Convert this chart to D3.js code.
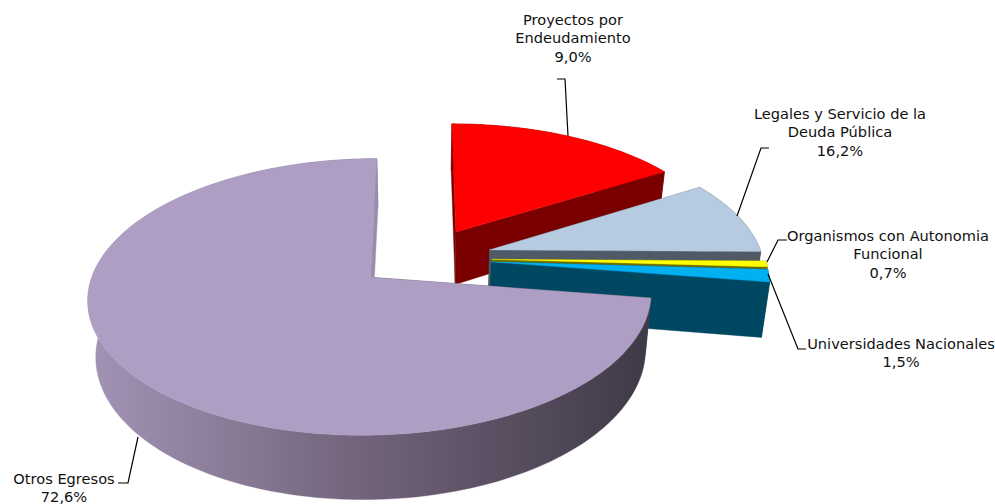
<!DOCTYPE html>
<html lang="es">
<head>
<meta charset="utf-8">
<title>Egresos</title>
<script src="https://cdn.jsdelivr.net/npm/d3@7"></script>
<style>
  html, body { margin: 0; padding: 0; background: #fff; }
  svg { display: block; }
  text { font-family: "DejaVu Sans", sans-serif; font-size: 14.6px; fill: #111; }
</style>
</head>
<body>
<div id="chart"></div>
<script>
const categories = [
  "Proyectos por|Endeudamiento",
  "Legales y Servicio de la|Deuda Pública",
  "Organismos con Autonomia|Funcional",
  "Universidades Nacionales",
  "Otros Egresos",
];
// what the labels print
const labelValues = ["9,0%", "16,2%", "0,7%", "1,5%", "72,6%"];
// size of the slices as drawn: in the picture the red one is the 16,2 slice and the blue one the 9,0
const sliceValues = [16.2, 9.0, 0.7, 1.5, 72.6];
const topColors = ["#ff0000", "#b6cbe0", "#ffff00", "#00b0f0", "#af9ec4"];
const wallColors = ["#7a0000", "#4f5a66", "#6e6e00", "#004862", "#5c5368"];
// how far each slice is pulled out of the pie, in radii
const explodeX = [0.128, 0.25, 0.255, 0.253, -0.185];
const explodeZ = [0.206, 0.063, -0.01, -0.03, -0.145];

const width = 995;
const height = 504;

// perspective pie: world x/z on the table, z grows away from the viewer
const originX = 422;
const originY = 258;
const scaleX = 273;
const scaleZ = 130;
const perspective = 0.14;
const depth = 54;
const lowerShrink = 0.024;

const svg = d3.select("#chart").append("svg").attr("width", width).attr("height", height);

const defs = svg.append("defs");
const grad = defs.append("linearGradient")
  .attr("id", "purpleWall")
  .attr("gradientUnits", "userSpaceOnUse")
  .attr("x1", 90).attr("x2", 650).attr("y1", 0).attr("y2", 0);
grad.append("stop").attr("offset", "0%").attr("stop-color", "#a293b5");
grad.append("stop").attr("offset", "50%").attr("stop-color", "#716279");
grad.append("stop").attr("offset", "100%").attr("stop-color", "#3f3a47");

const pie = d3.pie().sort(null).value((d) => d)
  .startAngle(0).endAngle(2 * Math.PI);
const slices = pie(sliceValues);

const scaleH = d3.scaleLinear().domain([0, 1]).range([0, scaleX]);
const scaleV = d3.scaleLinear().domain([0, 1]).range([0, scaleZ]);

// world point -> screen, lower = true gives the bottom face
function project(wx, wz, lower) {
  const d = 1 + perspective * wz;
  let x = originX + scaleH(wx) / d;
  let y = originY - scaleV(wz) / d;
  if (lower) {
    x = originX + (x - originX) * (1 - lowerShrink);
    y += depth / d;
  }
  return [x, y];
}

function rimPoints(s, lower) {
  const cx = explodeX[s.index];
  const cz = explodeZ[s.index];
  const steps = Math.max(4, Math.ceil((s.endAngle - s.startAngle) * 40));
  return d3.range(steps + 1).map((i) => {
    const a = s.startAngle + ((s.endAngle - s.startAngle) * i) / steps;
    return project(cx + Math.sin(a), cz + Math.cos(a), lower);
  });
}

function apex(s, lower) {
  return project(explodeX[s.index], explodeZ[s.index], lower);
}

const line = d3.line().curve(d3.curveLinear);

function poly(points, fill) {
  svg.append("path")
    .attr("d", line(points) + "Z")
    .attr("fill", fill)
    .attr("stroke", fill)
    .attr("stroke-width", 0.4)
    .attr("stroke-linejoin", "round");
}

slices.forEach((s, i) => {
  const wall = i === 4 ? "url(#purpleWall)" : wallColors[i];
  const up = rimPoints(s, false);
  const low = rimPoints(s, true);
  const a0 = apex(s, false);
  const a1 = apex(s, true);
  // cut at the start, round side, cut at the end, top face last
  poly([a0, up[0], low[0], a1], i === 4 ? "#4a4452" : wall);
  poly(up.concat(low.slice().reverse()), wall);
  poly([a0, up[up.length - 1], low[low.length - 1], a1], i === 4 ? "#9a8cab" : wall);
  poly([a0].concat(up), topColors[i]);
});

// label block: centre x and first baseline, then leader line
const labelX = [573, 840, 888, 901, 64];
const labelY = [25, 119, 241, 349, 484];
const leaders = [
  [[557, 79], [565, 79], [568, 136]],
  [[769, 148], [761, 148], [737, 216]],
  [[787, 240], [778, 240], [767, 262]],
  [[806, 349], [798, 349], [768, 274]],
  [[118, 483], [128, 483], [138, 437]],
];

leaders.forEach((pts) => {
  svg.append("path")
    .attr("d", line(pts))
    .attr("fill", "none")
    .attr("stroke", "#000")
    .attr("stroke-width", 1.2);
});

categories.forEach((name, i) => {
  const rows = name.split("|").concat(labelValues[i]);
  const t = svg.append("text").attr("text-anchor", "middle");
  rows.forEach((row, j) => {
    t.append("tspan")
      .attr("x", labelX[i])
      .attr("y", labelY[i] + j * 18.3)
      .text(row);
  });
});
</script>
</body>
</html>
